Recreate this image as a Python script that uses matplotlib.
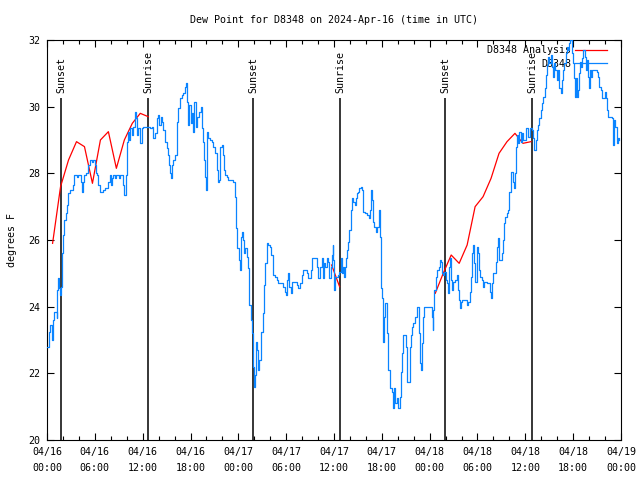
import matplotlib
matplotlib.use("Agg")
import matplotlib.pyplot as plt
import numpy as np

# ---------------- data ----------------
# observation series D8348 (hours since 2024-04-16 00:00 UTC, dew point F)
obs_hours = [
 0.00,0.16,0.29,0.41,0.66,0.79,0.92,1.22,1.29,1.42,1.54,1.67,1.76,1.84,1.92,2.04,2.17,2.35,2.47,2.60,
 2.67,2.89,3.30,3.42,3.73,3.93,4.26,4.43,4.55,4.68,4.85,5.18,5.39,5.61,5.81,6.02,6.11,6.23,6.44,6.65,
 7.06,7.28,7.69,7.90,8.03,8.12,8.32,8.53,8.66,9.03,9.16,9.57,9.70,9.87,10.00,10.20,10.32,10.45,10.62,10.83,
 11.04,11.16,11.25,11.45,11.67,11.88,12.08,12.92,13.13,13.33,13.55,13.76,13.96,14.09,14.26,14.39,14.59,14.80,15.01,15.14,
 15.30,15.43,15.55,15.72,15.84,16.06,16.27,16.47,16.68,16.90,17.10,17.31,17.44,17.52,17.65,17.72,17.85,18.03,18.15,18.28,
 18.44,18.65,18.78,19.10,19.32,19.48,19.61,19.73,19.82,19.91,20.03,20.23,20.45,20.66,20.86,21.07,21.29,21.41,21.58,21.70,
 21.91,22.04,22.20,22.37,22.54,22.67,23.37,23.58,23.71,23.87,24.08,24.21,24.34,24.50,24.58,24.71,24.88,25.05,25.25,25.38,
 25.59,25.72,25.80,25.88,25.97,26.09,26.22,26.38,26.50,26.63,26.81,27.06,27.13,27.22,27.35,27.56,27.76,27.97,28.10,28.31,
 28.60,28.81,29.01,29.44,29.64,29.85,29.98,30.14,30.27,30.39,30.57,30.69,31.11,31.32,31.52,31.74,31.95,32.07,32.36,32.58,
 32.78,33.08,33.20,33.62,33.83,34.03,34.25,34.46,34.58,34.71,34.87,35.09,35.29,35.41,35.59,35.71,35.84,35.91,36.04,36.16,
 36.54,36.67,36.84,36.97,37.09,37.26,37.38,37.51,37.67,37.79,37.92,38.10,38.22,38.42,38.64,38.76,38.92,39.05,39.17,39.35,
 39.47,39.60,39.89,40.18,40.43,40.52,40.64,40.73,40.86,41.02,41.23,41.36,41.61,41.68,41.77,41.86,41.98,42.11,42.18,42.31,
 42.44,42.61,42.69,42.81,43.03,43.24,43.36,43.44,43.57,43.69,43.87,43.99,44.28,44.41,44.53,44.69,45.03,45.20,45.53,45.66,
 45.82,45.95,46.16,46.37,46.70,46.79,46.91,47.00,47.13,47.29,48.04,48.26,48.38,48.46,48.58,48.80,48.96,49.13,49.30,49.42,
 49.55,49.71,49.84,50.01,50.14,50.26,50.43,50.55,50.68,50.84,50.97,51.18,51.39,51.52,51.64,51.81,51.93,52.09,52.64,52.85,
 53.06,53.19,53.31,53.47,53.60,53.72,53.90,54.03,54.15,54.32,54.53,54.73,54.85,55.16,55.57,55.69,55.82,55.98,56.32,56.49,
 56.61,56.74,56.82,57.04,57.16,57.33,57.49,57.66,57.86,57.99,58.17,58.49,58.62,58.74,58.83,58.99,59.12,59.25,59.42,59.54,
 59.75,60.05,60.37,60.59,60.80,60.93,61.09,61.30,61.50,61.62,61.75,61.93,62.05,62.18,62.47,62.59,62.76,62.88,63.01,63.18,
 63.31,63.43,63.56,63.72,63.94,64.14,64.26,64.44,64.60,64.77,64.89,65.07,65.19,65.32,65.44,65.57,65.82,65.94,66.11,66.23,
 66.36,66.48,66.65,66.77,66.86,66.98,67.11,67.27,67.52,67.65,67.78,67.90,68.03,68.15,68.28,68.40,69.03,69.16,69.28,69.46,
 69.58,70.00,70.12,70.28,70.41,70.83,70.96,71.04,71.16,71.29,71.46,71.66,71.79,
]
obs_values = [
 22.8,22.8,23.25,23.45,23.0,23.6,23.85,23.65,24.5,24.85,24.55,24.35,24.6,25.1,25.6,26.15,26.6,26.8,27.05,27.2,
 27.4,27.5,27.65,27.95,27.9,27.95,27.75,27.45,27.75,27.95,28.0,28.25,28.4,28.35,28.4,28.25,28.0,27.95,27.65,27.45,
 27.5,27.55,27.75,27.95,27.65,27.85,27.95,27.85,27.95,27.85,27.95,27.65,27.35,27.95,28.95,29.25,29.0,29.35,29.15,29.4,
 29.85,29.65,29.15,29.35,28.9,29.35,29.4,29.35,29.4,29.05,29.2,29.65,29.75,29.45,29.7,29.55,29.3,28.95,28.75,28.55,
 28.25,28.0,27.85,28.25,28.4,28.55,29.55,29.95,30.25,30.35,30.4,30.6,30.7,30.15,29.95,29.45,30.05,29.5,29.8,29.25,
 30.15,29.4,29.7,29.85,30.0,29.35,28.95,28.4,27.9,27.5,29.25,29.05,29.0,28.95,28.8,28.6,28.1,27.75,27.8,28.8,
 28.85,28.55,28.1,27.95,27.9,27.8,27.75,27.3,26.35,25.75,25.4,25.1,26.1,26.25,26.0,25.6,25.75,25.5,25.15,24.05,
 23.6,23.2,22.65,22.2,21.6,21.95,22.95,22.7,22.1,22.4,23.25,23.3,23.8,24.65,25.3,25.9,25.85,25.8,25.55,24.95,
 24.9,24.8,24.7,24.7,24.6,24.45,24.35,24.8,25.0,24.6,24.4,24.75,24.75,24.65,24.55,24.7,24.95,25.1,25.1,25.0,
 24.85,25.1,25.45,25.45,25.2,24.85,25.2,25.45,24.85,25.3,25.2,25.45,25.35,24.85,25.2,25.55,25.85,25.4,24.5,24.9,
 24.95,25.05,25.45,25.0,25.2,24.9,25.2,25.45,25.7,25.95,26.3,26.9,27.25,27.15,27.05,27.25,27.4,27.45,27.55,27.6,
 27.5,26.85,26.8,26.75,26.65,26.9,27.5,27.2,26.55,26.4,26.25,26.4,26.7,26.9,26.1,24.55,24.25,23.2,22.95,23.7,
 24.1,23.7,23.2,22.1,21.55,21.45,21.1,20.95,21.55,21.1,21.25,20.95,21.3,22.05,22.6,23.15,22.8,21.75,22.8,23.15,
 23.4,23.5,23.7,24.0,23.2,22.3,22.1,22.9,23.7,24.0,24.0,23.7,23.3,23.9,24.5,24.9,25.1,25.2,25.4,25.35,
 25.0,24.95,25.05,24.8,24.7,24.4,25.2,25.45,24.8,24.5,24.75,24.8,24.95,24.5,24.2,23.95,24.15,24.2,24.05,24.15,
 24.45,24.9,25.6,25.85,25.3,24.75,25.8,25.6,25.1,24.9,24.8,24.6,24.75,24.7,24.45,24.25,24.7,25.0,25.35,25.8,
 26.05,25.4,25.4,25.6,26.0,26.5,26.7,26.8,26.9,27.45,28.05,27.75,27.55,28.0,28.8,29.15,28.9,29.25,28.95,29.2,
 29.0,29.35,29.1,29.35,29.3,29.05,28.7,29.0,29.3,29.45,29.65,29.9,30.1,30.3,30.55,30.95,31.25,31.5,31.3,31.55,
 31.2,30.9,31.3,31.1,30.8,31.1,30.55,30.4,30.8,31.1,31.3,31.6,31.8,31.7,31.9,32.0,31.6,31.3,30.85,30.3,
 30.85,30.3,30.5,31.0,31.35,31.2,31.45,31.7,31.5,31.1,31.4,30.9,30.55,31.1,30.9,31.1,31.05,30.9,30.6,30.5,
 30.25,30.45,30.25,29.9,29.7,29.65,29.1,28.85,29.6,29.4,28.9,29.05,29.0,
]

# analysis series (hourly, NaN = gap)
ana_hours = [0.7,1.7,2.7,3.7,4.7,5.7,6.7,7.7,8.7,9.7,10.7,11.7,12.7,
             13.7,
             35.7,36.7,
             37.7,
             48.7,49.7,50.7,51.7,52.7,53.7,54.7,55.7,56.7,57.7,58.7,59.7,60.7]
ana_values = [25.9,27.6,28.4,28.95,28.8,27.7,29.0,29.25,28.15,29.0,29.5,29.8,29.7,
              np.nan,
              25.25,24.6,
              np.nan,
              24.4,25.0,25.55,25.3,25.85,27.0,27.3,27.85,28.6,28.95,29.2,28.9,28.95]

sun_hours = [1.8, 12.7, 25.88, 36.8, 49.96, 60.88]
sun_labels = ["Sunset", "Sunrise", "Sunset", "Sunrise", "Sunset", "Sunrise"]

xtick_hours = [0, 6, 12, 18, 24, 30, 36, 42, 48, 54, 60, 66, 72]
xtick_labels = ["04/16\n00:00", "04/16\n06:00", "04/16\n12:00", "04/16\n18:00",
                "04/17\n00:00", "04/17\n06:00", "04/17\n12:00", "04/17\n18:00",
                "04/18\n00:00", "04/18\n06:00", "04/18\n12:00", "04/18\n18:00",
                "04/19\n00:00"]
ytick_values = [20, 22, 24, 26, 28, 30, 32]

title = "Dew Point for D8348 on 2024-Apr-16 (time in UTC)"
ylabel = "degrees F"

# ---------------- plot ----------------
plt.rcParams['font.family'] = ['DejaVu Sans Mono']
FS = 7.2
BLUE = '#0a84ff'

fig = plt.figure(figsize=(6.4, 4.8), dpi=100)
ax = fig.add_axes([47/640, 1-440/480, (621-47)/640, 400/480])

ax.plot(ana_hours, ana_values, color='#ff0000', lw=0.9, label='D8348 Analysis', zorder=3)
ax.plot(obs_hours, obs_values, color=BLUE, lw=0.9, drawstyle='steps-post', label='D8348', zorder=4)

for h, lab in zip(sun_hours, sun_labels):
    ax.vlines(h, 20, 30.25, color='black', lw=1.1, zorder=2)
    ax.text(h, 30.42, lab, rotation=90, ha='center', va='bottom', fontsize=FS)

ax.set_xlim(0, 72)
ax.set_ylim(20, 32)
ax.set_xticks(xtick_hours)
ax.set_xticklabels(xtick_labels, fontsize=FS, linespacing=1.75)
ax.set_xticks(np.arange(0, 73, 2), minor=True)
ax.set_yticks(ytick_values)
ax.set_yticklabels([str(v) for v in ytick_values], fontsize=FS)
ax.tick_params(axis='both', which='major', direction='in', length=5, width=0.8,
               top=True, right=True, pad=5)
ax.tick_params(axis='x', which='minor', direction='in', length=3, width=0.8, top=True)
for s in ax.spines.values():
    s.set_linewidth(0.8)

ax.set_title(title, fontsize=FS, pad=12)
ax.set_ylabel(ylabel, fontsize=FS, labelpad=8)

leg = ax.legend(loc='upper right', bbox_to_anchor=(1 - 9/574, 1.0), frameon=False,
                markerfirst=False, fontsize=FS,
                handlelength=3.2, handletextpad=0.35, borderaxespad=0.15,
                labelspacing=0.35)
leg.set_zorder(1)

fig.savefig('out.png', dpi=100)
